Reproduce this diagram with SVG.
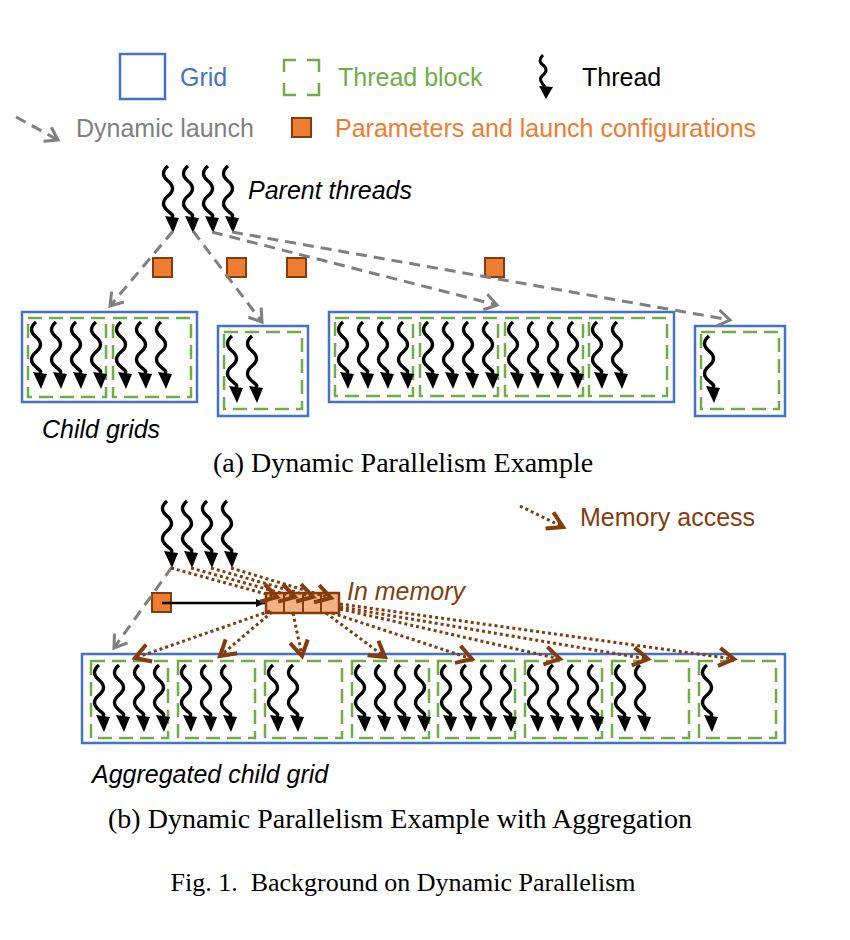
<svg xmlns="http://www.w3.org/2000/svg" xmlns:xlink="http://www.w3.org/1999/xlink" width="850" height="940" viewBox="0 0 850 940">
<style>
.grid{fill:none;stroke:#4472C4;stroke-width:2.5}
.blk{fill:none;stroke:#70AD47;stroke-width:2.5;stroke-dasharray:14 7}
.launch{fill:none;stroke:#7F7F7F;stroke-width:3;stroke-dasharray:11 7}
.mem{fill:none;stroke:#843C0C;stroke-width:3;stroke-dasharray:3 3}
.param{fill:#ED7D31;stroke:#843C0C;stroke-width:2}
.lbl{font-family:"Liberation Sans",Arial,sans-serif;font-size:25px}
.it{font-family:"Liberation Sans",Arial,sans-serif;font-size:25px;font-style:italic}
.cap{font-family:"Liberation Serif","Times New Roman",serif;font-size:28px;fill:#000}
</style>
<defs>
<g id="thr">
<path d="M0,0 C-6,5 -6,10 0,15 S6,25 0,30 S-6,40 0,45 S5,49 4,52" fill="none" stroke="#000" stroke-width="3.4"/>
<polygon points="-3,50 11,52 5,67" fill="#000"/>
</g>
<marker id="mg" markerUnits="userSpaceOnUse" markerWidth="30" markerHeight="30" viewBox="-15 -15 30 30" refX="0" refY="0" orient="auto">
<path d="M-12,-8 L0,0 L-12,8" fill="none" stroke="#7F7F7F" stroke-width="3" stroke-dasharray="none"/>
</marker>
<marker id="mb" markerUnits="userSpaceOnUse" markerWidth="36" markerHeight="36" viewBox="-18 -18 36 36" refX="0" refY="0" orient="auto">
<path d="M-15,-9 L0,0 L-15,9" fill="none" stroke="#843C0C" stroke-width="4" stroke-dasharray="none"/>
</marker>
<marker id="mk" markerUnits="userSpaceOnUse" markerWidth="20" markerHeight="20" viewBox="-10 -10 20 20" refX="0" refY="0" orient="auto">
<path d="M-9,-4 L0,0 L-9,4 z" fill="#000"/>
</marker>
</defs>
<rect width="850" height="940" fill="#fff"/>

<!-- Legend -->
<g id="legend-grid">
<rect class="grid" x="120" y="54" width="45" height="45"/>
<text class="lbl" x="180" y="86" fill="#4472C4">Grid</text>
</g>
<g id="legend-block">
<rect x="284" y="60" width="35" height="35" fill="none" stroke="#70AD47" stroke-width="2.5" stroke-dasharray="24 11" stroke-dashoffset="12"/>
<text class="lbl" x="338" y="86" fill="#70AD47">Thread block</text>
</g>
<g id="legend-thread">
<path d="M543,55 C539,59 539,62 543,65 S547,72 543,75 S540,81 545,87" fill="none" stroke="#000" stroke-width="3"/>
<polygon points="539,86 553,87 546,99" fill="#000"/>
<text class="lbl" x="582" y="86" fill="#000">Thread</text>
</g>
<g id="legend-launch">
<line class="launch" x1="16" y1="117" x2="58" y2="140" marker-end="url(#mg)"/>
<text class="lbl" x="76" y="137" fill="#7F7F7F">Dynamic launch</text>
</g>
<g id="legend-param">
<rect class="param" x="292" y="118" width="19" height="19"/>
<text class="lbl" x="335" y="137" fill="#ED7D31">Parameters and launch configurations</text>
</g>
<g id="legend-memory">
<line class="mem" x1="520" y1="506" x2="563" y2="527" marker-end="url(#mb)"/>
<text class="lbl" x="580" y="526" fill="#843C0C">Memory access</text>
</g>

<!-- (a) -->
<g id="parent-threads-a">
<use xlink:href="#thr" x="168" y="166"/>
<use xlink:href="#thr" x="188" y="166"/>
<use xlink:href="#thr" x="208" y="166"/>
<use xlink:href="#thr" x="228" y="166"/>
<text class="it" x="248" y="199" fill="#000">Parent threads</text>
</g>
<g id="params-a">
<rect class="param" x="153" y="258" width="19" height="19"/>
<rect class="param" x="227" y="258" width="19" height="19"/>
<rect class="param" x="287" y="258" width="19" height="19"/>
<rect class="param" x="485" y="258" width="19" height="19"/>
</g>
<g id="child-grid-1">
<rect class="grid" x="22" y="312" width="175" height="90"/>
<rect class="blk" x="28" y="318" width="78" height="79"/>
<rect class="blk" x="113" y="318" width="78" height="79"/>
<use xlink:href="#thr" x="36" y="322"/>
<use xlink:href="#thr" x="56" y="322"/>
<use xlink:href="#thr" x="76" y="322"/>
<use xlink:href="#thr" x="96" y="322"/>
<use xlink:href="#thr" x="121" y="322"/>
<use xlink:href="#thr" x="141" y="322"/>
<use xlink:href="#thr" x="161" y="322"/>
</g>
<g id="child-grid-2">
<rect class="grid" x="218" y="326" width="90" height="90"/>
<rect class="blk" x="224" y="332" width="78" height="77"/>
<use xlink:href="#thr" x="232" y="336"/>
<use xlink:href="#thr" x="252" y="336"/>
</g>
<g id="child-grid-3">
<rect class="grid" x="329" y="312" width="345" height="90"/>
<rect class="blk" x="335" y="318" width="78" height="78"/>
<rect class="blk" x="420" y="318" width="78" height="78"/>
<rect class="blk" x="505" y="318" width="78" height="78"/>
<rect class="blk" x="589" y="318" width="78" height="78"/>
<use xlink:href="#thr" x="343" y="322"/>
<use xlink:href="#thr" x="363" y="322"/>
<use xlink:href="#thr" x="383" y="322"/>
<use xlink:href="#thr" x="403" y="322"/>
<use xlink:href="#thr" x="428" y="322"/>
<use xlink:href="#thr" x="448" y="322"/>
<use xlink:href="#thr" x="468" y="322"/>
<use xlink:href="#thr" x="488" y="322"/>
<use xlink:href="#thr" x="513" y="322"/>
<use xlink:href="#thr" x="533" y="322"/>
<use xlink:href="#thr" x="553" y="322"/>
<use xlink:href="#thr" x="573" y="322"/>
<use xlink:href="#thr" x="597" y="322"/>
<use xlink:href="#thr" x="617" y="322"/>
</g>
<g id="child-grid-4">
<rect class="grid" x="695" y="326" width="90" height="90"/>
<rect class="blk" x="701" y="332" width="78" height="77"/>
<use xlink:href="#thr" x="709" y="336"/>
</g>
<text class="it" x="42" y="438" fill="#000">Child grids</text>
<text class="cap" x="403" y="472" text-anchor="middle">(a) Dynamic Parallelism Example</text>

<!-- (b) -->
<g id="parent-threads-b">
<use xlink:href="#thr" x="167" y="501"/>
<use xlink:href="#thr" x="187" y="501"/>
<use xlink:href="#thr" x="207" y="501"/>
<use xlink:href="#thr" x="227" y="501"/>
</g>
<g id="params-b">
<rect class="param" x="152" y="593" width="19" height="19"/>
</g>
<g id="memory">
<rect x="266" y="593" width="73" height="20" fill="#F4B183" stroke="#843C0C" stroke-width="2.5"/>
<line x1="284" y1="593" x2="284" y2="613" stroke="#843C0C" stroke-width="2"/>
<line x1="303" y1="593" x2="303" y2="613" stroke="#843C0C" stroke-width="2"/>
<line x1="321" y1="593" x2="321" y2="613" stroke="#843C0C" stroke-width="2"/>
<text class="it" x="347" y="600" fill="#843C0C">In memory</text>
</g>
<g id="aggregated-grid">
<rect class="grid" x="82" y="654" width="703" height="89"/>
<rect class="blk" x="91" y="661" width="77" height="77"/>
<rect class="blk" x="178" y="661" width="77" height="77"/>
<rect class="blk" x="265" y="661" width="77" height="77"/>
<rect class="blk" x="352" y="661" width="77" height="77"/>
<rect class="blk" x="438" y="661" width="77" height="77"/>
<rect class="blk" x="525" y="661" width="77" height="77"/>
<rect class="blk" x="612" y="661" width="77" height="77"/>
<rect class="blk" x="699" y="661" width="77" height="77"/>
<use xlink:href="#thr" x="99" y="665"/>
<use xlink:href="#thr" x="119" y="665"/>
<use xlink:href="#thr" x="139" y="665"/>
<use xlink:href="#thr" x="159" y="665"/>
<use xlink:href="#thr" x="186" y="665"/>
<use xlink:href="#thr" x="206" y="665"/>
<use xlink:href="#thr" x="226" y="665"/>
<use xlink:href="#thr" x="273" y="665"/>
<use xlink:href="#thr" x="293" y="665"/>
<use xlink:href="#thr" x="360" y="665"/>
<use xlink:href="#thr" x="380" y="665"/>
<use xlink:href="#thr" x="400" y="665"/>
<use xlink:href="#thr" x="420" y="665"/>
<use xlink:href="#thr" x="446" y="665"/>
<use xlink:href="#thr" x="466" y="665"/>
<use xlink:href="#thr" x="486" y="665"/>
<use xlink:href="#thr" x="506" y="665"/>
<use xlink:href="#thr" x="533" y="665"/>
<use xlink:href="#thr" x="553" y="665"/>
<use xlink:href="#thr" x="573" y="665"/>
<use xlink:href="#thr" x="593" y="665"/>
<use xlink:href="#thr" x="620" y="665"/>
<use xlink:href="#thr" x="640" y="665"/>
<use xlink:href="#thr" x="707" y="665"/>
</g>
<text class="it" x="92" y="783" fill="#000">Aggregated child grid</text>
<text class="cap" x="400" y="828" text-anchor="middle">(b) Dynamic Parallelism Example with Aggregation</text>
<text class="cap" x="403" y="891" text-anchor="middle" style="font-size:26px" xml:space="preserve">Fig. 1.  Background on Dynamic Parallelism</text>

<!-- Connectors (drawn on top) -->
<g id="connectors">
<line class="launch" x1="173" y1="231" x2="110" y2="306" marker-end="url(#mg)"/>
<line class="launch" x1="193" y1="231" x2="262" y2="322" marker-end="url(#mg)"/>
<line class="launch" x1="212" y1="232" x2="497" y2="305" marker-end="url(#mg)"/>
<line class="launch" x1="232" y1="232" x2="730" y2="320" marker-end="url(#mg)"/>
<line class="launch" x1="172" y1="567" x2="114" y2="648" marker-end="url(#mg)"/>
<line x1="162" y1="603" x2="265" y2="603" stroke="#000" stroke-width="2.5" marker-end="url(#mk)"/>
<line class="mem" x1="171" y1="568" x2="277" y2="597" marker-end="url(#mb)"/>
<line class="mem" x1="191" y1="568" x2="295" y2="597" marker-end="url(#mb)"/>
<line class="mem" x1="211" y1="568" x2="313" y2="597" marker-end="url(#mb)"/>
<line class="mem" x1="231" y1="568" x2="331" y2="598" marker-end="url(#mb)"/>
<line class="mem" x1="270" y1="611" x2="135" y2="658" marker-end="url(#mb)"/>
<line class="mem" x1="272" y1="612" x2="220" y2="656" marker-end="url(#mb)"/>
<line class="mem" x1="293" y1="613" x2="302" y2="656" marker-end="url(#mb)"/>
<line class="mem" x1="326" y1="613" x2="385" y2="657" marker-end="url(#mb)"/>
<line class="mem" x1="332" y1="613" x2="472" y2="659" marker-end="url(#mb)"/>
<line class="mem" x1="340" y1="609" x2="560" y2="659" marker-end="url(#mb)"/>
<line class="mem" x1="340" y1="607" x2="648" y2="659" marker-end="url(#mb)"/>
<line class="mem" x1="340" y1="604" x2="734" y2="659" marker-end="url(#mb)"/>
</g>
</svg>
